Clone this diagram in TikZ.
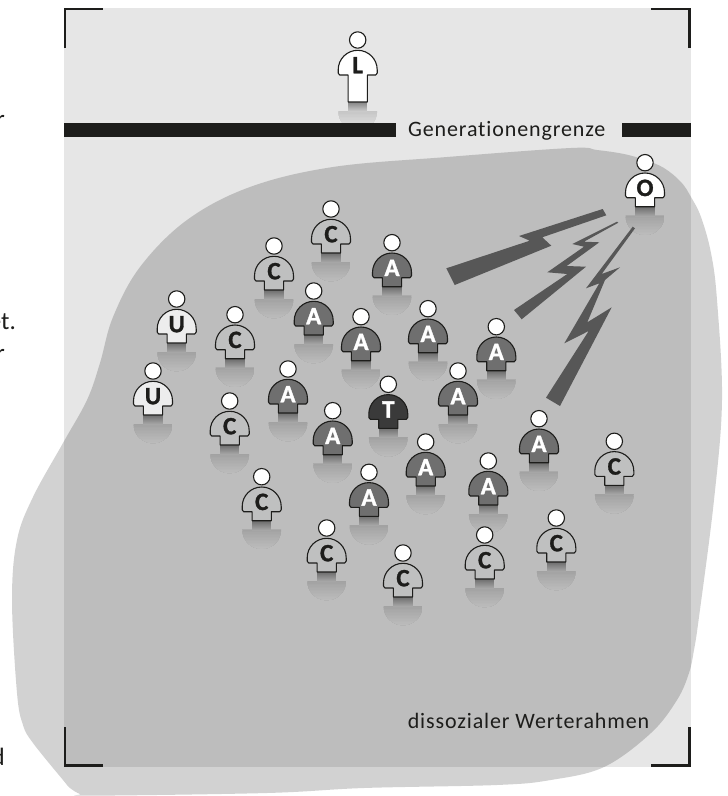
\documentclass[tikz,border=0pt]{standalone}
\usepackage{fontspec}
\setmainfont{Carlito}
\newfontfamily\labfont[LetterSpace=4,Ligatures=NoCommon]{Carlito}
\newfontfamily\letfont[BoldFeatures={FakeBold=1.2}]{Carlito}
\definecolor{ink}{HTML}{1D1D1B}
\definecolor{paper}{HTML}{E6E6E6}
\definecolor{insideblob}{HTML}{BDBDBD}
\definecolor{fillC}{HTML}{BFC0C0}
\definecolor{fillA}{HTML}{6F6F6F}
\definecolor{fillT}{HTML}{3A3A3A}
\definecolor{fillU}{HTML}{EDEDED}
\definecolor{boltcol}{HTML}{575757}
\tikzset{
  personline/.style={draw=ink,line width=1.1pt,line join=round},
  letterlab/.style={font=\letfont\fontsize{25}{25}\selectfont\bfseries,inner sep=0pt},
  caption/.style={font=\labfont\fontsize{22}{22}\selectfont,text=ink,inner sep=0pt,anchor=base},
  cutlab/.style={font=\fontsize{25}{25}\selectfont,text=ink,inner sep=0pt,anchor=base east},
  bolt/.style={fill=boltcol,draw=none},
  barbox/.style={fill=ink,draw=none},
  cornermark/.style={draw=ink,line width=2.4pt,line cap=butt,miter limit=10},
}
% shadow built from overlapping bands: x, y, torso length, background
\newcommand{\persshadow}[4]{%
  \begin{scope}[shift={(#1,#2)}]
    \begin{scope}
      \clip (-19.5,#3+8.7) -- (19.5,#3+8.7) arc[start angle=0,end angle=180,radius=19.5] -- cycle;
      \foreach \i in {0,...,13}{%
        \pgfmathsetmacro{\pct}{86+14*\i/13}%
        \fill[#4!\pct!black] (-20,#3+8.7+1.5*\i) rectangle (20,#3+30);
      }
    \end{scope}
    \foreach \i in {0,...,9}{%
      \pgfmathsetmacro{\pct}{58+30*\i/9}%
      \fill[#4!\pct!black] (-9.6,#3+\i) rectangle (9.6,#3+10);
    }
  \end{scope}}
% person: name, x, y, fill, letter colour, letter, torso length
\newcommand{\persfig}[7]{%
  \begin{scope}[shift={(#2,#3)}]
    \path[personline,fill=#4]
      (-9.6,#7) -- (-9.6,35) -- (-18,35) to[out=180,in=90] (-19.5,33) -- (-19.5,29.8)
      arc[start angle=180,end angle=360,radius=19.5]
      -- (19.5,33) to[out=90,in=0] (18,35) -- (9.6,35) -- (9.6,#7) -- cycle;
    \path[personline,fill=white] (0,0) circle[radius=8.2];
    \node[letterlab,text=#5] (#1) at (0,25.2) {#6};
  \end{scope}}
\begin{document}
\begin{tikzpicture}[x=1pt,y=-1pt]
\useasboundingbox (0,0) rectangle (728,796);
\fill[paper] (64,8) rectangle (690.7,766.7);
\fill[black,opacity=0.175] plot[smooth cycle,tension=0.6] coordinates {
 (570.7,148) (597,150) (624,154) (645,160) (664,168) (681,182) (691,197) (701,217) (711,253)
 (717,300) (722,400) (714,500) (699,617) (694,650) (689,673) (677,700) (651,733) (604,767)
 (550.7,780) (497,785) (364,788) (267,793) (90,795.7) (80,794) (70,788) (63,780) (33,743)
 (23,725) (17,693) (12,600) (17,540) (33,497) (63,443) (87,400) (100,363) (113,317) (140,267)
 (187,220) (250,187) (333,167) (447,157)};
% shadows
\persshadow{357.7}{40}{62}{paper}
\foreach \px/\py in {645/162.7,331/209,274/246,235/314.7,176.7/299,153/371,313.7/291,361/316.7,288/369,
  229.7/401,332.7/410.7,261.7/476.7,326.7/528,392/242.7,428/308.7,496.3/326.7,458/371,388.3/384.3,
  425.7/442,488.3/461,539/418.7,614.3/441.3,556.3/518,484.7/535,403/553,369/472.3}
  {\persshadow{\px}{\py}{44}{insideblob}}
% bars
\fill[barbox] (64,123.3) rectangle (396.3,136.7);
\fill[barbox] (622.3,123.3) rectangle (690.7,136.7);
% bolts
\fill[bolt] (602.7,209) -- (606.3,215.3) -- (542.3,237.3) -- (551.3,245.7) -- (454.7,285) -- (446.3,268.3) -- (529.7,240.7) -- (519,236) -- cycle;
\fill[bolt] (617,221.7) -- (572.3,244) -- (584,246.7) -- (547.3,272.3) -- (567.3,274) -- (514,310) -- (521.7,319.3) -- (586,266.7) -- (566.7,266) -- (599.3,242.3) -- (584,241.7) -- (618.3,222.7) -- cycle;
\fill[bolt] (632.7,226.7) -- (586,288.3) -- (599.3,283.3) -- (564.3,343.3) -- (588.7,331) -- (546,397.7) -- (560,406) -- (611.7,307.3) -- (587.3,322.3) -- (605,280) -- (620,267.3) -- (601.7,274) -- (635,228.3) -- cycle;
% persons
\persfig{pL}{357.7}{40}{white}{ink}{L}{62}
\persfig{pO}{645}{162.7}{white}{ink}{O}{44}
\persfig{pU1}{176.7}{299}{fillU}{ink}{U}{44}
\persfig{pU2}{153}{371}{fillU}{ink}{U}{44}
\foreach \n/\px/\py in {c1/331/209,c2/274/246,c3/235/314.7,c4/229.7/401,c5/261.7/476.7,c6/326.7/528,
  c7/403/553,c8/484.7/535,c9/556.3/518,c10/614.3/441.3}
  {\persfig{\n}{\px}{\py}{fillC}{ink}{C}{44}}
\foreach \n/\px/\py in {a1/392/242.7,a2/313.7/291,a3/361/316.7,a4/428/308.7,a5/496.3/326.7,a6/288/369,
  a7/332.7/410.7,a8/458/371,a9/425.7/442,a10/488.3/461,a11/539/418.7,a12/369/472.3}
  {\persfig{\n}{\px}{\py}{fillA}{white}{A}{44}}
\persfig{pT}{388.3}{384.3}{fillT}{white}{T}{44}
% corners
\draw[cornermark] (65.2,48) -- (65.2,9.2) -- (103,9.2);
\draw[cornermark] (689.5,48) -- (689.5,9.2) -- (651,9.2);
\draw[cornermark] (65.2,727) -- (65.2,765.5) -- (103,765.5);
\draw[cornermark] (689.5,727) -- (689.5,765.5) -- (651,765.5);
% captions
\node[caption] (grenze) at (506.7,136) {Generationengrenze};
\node[caption] (rahmen) at (528.5,728) {dissozialer Werterahmen};
% cut-off text at the left edge
\node[cutlab] (cut1) at (5,127) {r};
\node[cutlab] (cut2) at (1.5,256) {.};
\node[cutlab] (cut3) at (16,329) {et.};
\node[cutlab] (cut4) at (5,361) {r};
\node[cutlab] (cut5) at (5,765) {d};
\end{tikzpicture}
\end{document}
